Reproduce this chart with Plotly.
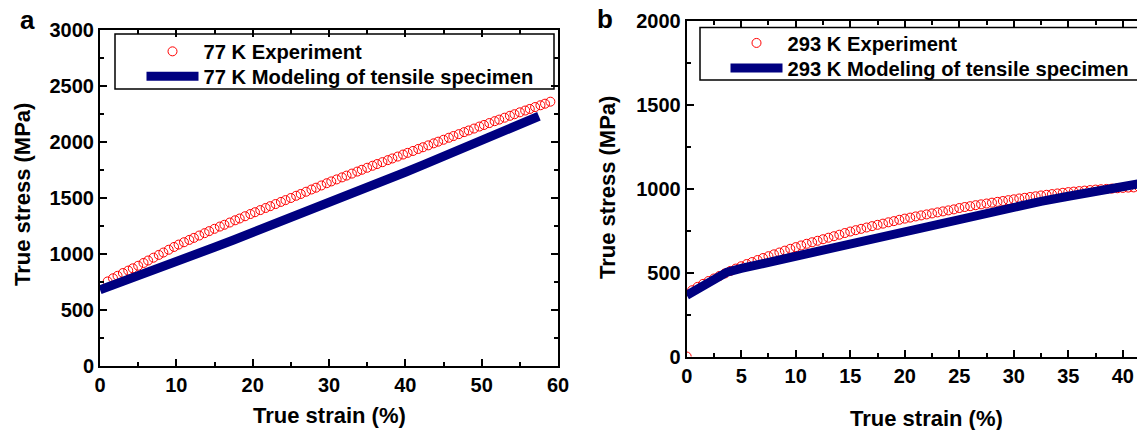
import plotly.graph_objects as go

W, H = 1137, 430

# ---------------- data ----------------
# Panel a (77 K)
strain_a_exp = [1.0, 1.7, 2.3, 3.0, 3.7, 4.3, 5.0, 5.7, 6.3, 7.0, 7.7, 8.3, 9.0, 9.7, 10.3, 11.0, 11.7, 12.3,
                13.0, 13.7, 14.3, 15.0, 15.7, 16.3, 17.0, 17.7, 18.3, 19.0, 19.7, 20.3, 21.0, 21.7, 22.3, 23.0,
                23.7, 24.3, 25.0, 25.7, 26.3, 27.0, 27.7, 28.3, 29.0, 29.7, 30.3, 31.0, 31.7, 32.3, 33.0, 33.7,
                34.3, 35.0, 35.7, 36.3, 37.0, 37.7, 38.3, 39.0, 39.7, 40.3, 41.0, 41.7, 42.3, 43.0, 43.7, 44.3,
                45.0, 45.7, 46.3, 47.0, 47.7, 48.3, 49.0, 49.7, 50.3, 51.0, 51.7, 52.3, 53.0, 53.7, 54.3, 55.0,
                55.7, 56.3, 57.0, 57.7, 58.3, 59.0]
stress_a_exp = [755, 783, 805, 830, 852, 872, 895, 920, 942, 967, 992, 1013, 1038, 1063, 1084, 1105, 1126, 1144,
                1165, 1186, 1204, 1225, 1245, 1261, 1281, 1301, 1317, 1337, 1357, 1373, 1392, 1411, 1427, 1446,
                1465, 1481, 1500, 1520, 1536, 1556, 1576, 1592, 1612, 1632, 1648, 1666, 1684, 1700, 1718, 1736,
                1752, 1770, 1788, 1803, 1820, 1838, 1853, 1870, 1888, 1903, 1920, 1938, 1953, 1970, 1988, 2003,
                2020, 2038, 2053, 2070, 2088, 2103, 2120, 2138, 2152, 2169, 2186, 2200, 2217, 2234, 2248, 2265,
                2281, 2295, 2312, 2328, 2342, 2360]
strain_a_mod = [0, 2.5, 5, 7.5, 10, 12.5, 15, 17.5, 20, 22.5, 25, 27.5, 30, 32.5, 35, 37.5, 40, 42.5, 45,
                47.5, 50, 52.5, 55, 57.5]
stress_a_mod = [680, 740, 800, 865, 930, 995, 1060, 1125, 1190, 1255, 1320, 1385, 1450, 1520, 1590, 1660,
                1730, 1800, 1870, 1940, 2015, 2090, 2160, 2230]

# Panel b (293 K)
strain_b_exp = [0.0, 0.5, 1.0, 1.5, 2.0, 2.5, 3.0, 3.5, 4.0, 4.5, 5.0, 5.5, 6.0, 6.5, 7.0, 7.5, 8.0, 8.5, 9.0,
                9.5, 10.0, 10.5, 11.0, 11.5, 12.0, 12.5, 13.0, 13.5, 14.0, 14.5, 15.0, 15.5, 16.0, 16.5, 17.0,
                17.5, 18.0, 18.5, 19.0, 19.5, 20.0, 20.5, 21.0, 21.5, 22.0, 22.5, 23.0, 23.5, 24.0, 24.5, 25.0,
                25.5, 26.0, 26.5, 27.0, 27.5, 28.0, 28.5, 29.0, 29.5, 30.0, 30.5, 31.0, 31.5, 32.0, 32.5, 33.0,
                33.5, 34.0, 34.5, 35.0, 35.5, 36.0, 36.5, 37.0, 37.5, 38.0, 38.5, 39.0, 39.5, 40.0, 40.5, 41.0,
                41.5]
stress_b_exp = [0, 395, 415, 433, 450, 465, 480, 495, 510, 524, 538, 551, 563, 575, 587, 598, 609, 620, 631,
                642, 652, 662, 672, 681, 690, 699, 708, 717, 726, 736, 745, 753, 761, 769, 777,
                785, 792, 800, 807, 815, 822, 828, 835, 841, 847, 853, 859, 865, 871, 877, 885,
                891, 896, 902, 907, 912, 917, 922, 927, 932, 937, 942, 946, 951, 955, 960, 964,
                968, 972, 976, 980, 983, 986, 989, 992, 995, 997, 999, 1001, 1003, 1005, 1007, 1008,
                1010]
strain_b_mod = [0, 1, 2, 3, 3.7, 5, 7.5, 10, 12.5, 15, 17.5, 20, 22.5, 25, 27.5, 30, 32.5, 35, 37.5, 40, 41.5]
stress_b_mod = [365, 403, 441, 478, 503, 525, 562, 600, 638, 675, 712, 748, 785, 822, 858, 893, 925, 955,
                983, 1010, 1030]

names_a = ["77 K Experiment", "77 K Modeling of tensile specimen"]
names_b = ["293 K Experiment", "293 K Modeling of tensile specimen"]
panel_labels = ["a", "b"]
axis_title_x = "True strain (%)"
axis_title_y = "True stress (MPa)"

# ---------------- style ----------------
RED = "#FF0000"
NAVY = "#000080"
FONT = "Liberation Sans, Arial, sans-serif"


def px(x):
    return x / W


def py(y):
    return 1 - y / H


fig = go.Figure()

fig.add_trace(go.Scatter(x=strain_a_exp, y=stress_a_exp, mode="markers", name=names_a[0],
                         marker=dict(symbol="circle-open", size=9, color=RED, line=dict(width=1, color=RED)),
                         xaxis="x", yaxis="y", legend="legend"))
fig.add_trace(go.Scatter(x=strain_a_mod, y=stress_a_mod, mode="lines", name=names_a[1],
                         line=dict(color=NAVY, width=9), xaxis="x", yaxis="y", legend="legend2"))
fig.add_trace(go.Scatter(x=strain_b_exp, y=stress_b_exp, mode="markers", name=names_b[0],
                         marker=dict(symbol="circle-open", size=9, color=RED, line=dict(width=1, color=RED)),
                         xaxis="x2", yaxis="y2", legend="legend3"))
fig.add_trace(go.Scatter(x=strain_b_mod, y=stress_b_mod, mode="lines", name=names_b[1],
                         line=dict(color=NAVY, width=9), xaxis="x2", yaxis="y2", legend="legend4"))

tickfont = dict(family=FONT, size=20, color="black", weight="bold")
common = dict(showline=True, linewidth=2, linecolor="black", ticks="inside", ticklen=7, tickwidth=1.5,
              tickcolor="black", showgrid=False, zeroline=False, tickfont=tickfont, automargin=False)
minor_common = dict(ticks="inside", ticklen=4, tickwidth=1.5, tickcolor="black", showgrid=False)

legfont = dict(family=FONT, size=20.2, color="black", weight="bold")


def leg(x, y):
    return dict(x=px(x), y=py(y), xanchor="left", yanchor="middle", bgcolor="rgba(0,0,0,0)",
                borderwidth=0, itemwidth=52, font=legfont)


fig.update_layout(
    template="none",
    width=W, height=H, margin=dict(l=0, r=0, t=0, b=0, pad=0),
    paper_bgcolor="white", plot_bgcolor="white",
    xaxis=dict(domain=[px(100), px(558)], range=[0, 60], dtick=10, anchor="y", mirror="allticks",
               minor=dict(dtick=5, **minor_common), **common),
    yaxis=dict(domain=[py(366), py(30)], range=[0, 3000], dtick=500, anchor="x", mirror="allticks",
               minor=dict(dtick=250, **minor_common), **common),
    xaxis2=dict(domain=[px(686.7), 1.0], range=[0, 41.3], dtick=5, anchor="y2", mirror="allticks",
                minor=dict(dtick=2.5, **minor_common), **common),
    yaxis2=dict(domain=[py(356.5), py(21)], range=[0, 2000], dtick=500, anchor="x2", mirror=False,
                minor=dict(dtick=250, **minor_common), **common),
    legend=leg(141.5, 51.7),
    legend2=leg(141.5, 76.7),
    legend3=leg(725.5, 43.3),
    legend4=leg(725.5, 68.3),
    showlegend=True,
)

# legend frames
fig.add_shape(type="rect", xref="paper", yref="paper", x0=px(115), x1=px(554), y0=py(89), y1=py(34),
              line=dict(color="black", width=1.5), fillcolor="rgba(0,0,0,0)", layer="above")
fig.add_shape(type="rect", xref="paper", yref="paper", x0=px(700), x1=1.02, y0=py(80), y1=py(27.5),
              line=dict(color="black", width=1.5), fillcolor="rgba(0,0,0,0)", layer="above")

titlefont = dict(family=FONT, size=22, color="black", weight="bold")
ann = [
    dict(text=axis_title_x, x=px(329), y=py(415), font=titlefont),
    dict(text=axis_title_x, x=px(927), y=py(418), font=titlefont),
    dict(text=axis_title_y, x=px(23), y=py(195), font=titlefont, textangle=-90),
    dict(text=axis_title_y, x=px(607), y=py(188), font=titlefont, textangle=-90),
    dict(text=panel_labels[0], x=px(27.5), y=py(20), font=dict(family=FONT, size=26, color="black", weight="bold")),
    dict(text=panel_labels[1], x=px(605), y=py(19), font=dict(family=FONT, size=26, color="black", weight="bold")),
]
for a in ann:
    fig.add_annotation(xref="paper", yref="paper", xanchor="center", yanchor="middle", showarrow=False, **a)

fig.write_html("out.html", config={"displayModeBar": False},
               post_script="document.body.style.margin='0';document.body.style.overflow='hidden';")
